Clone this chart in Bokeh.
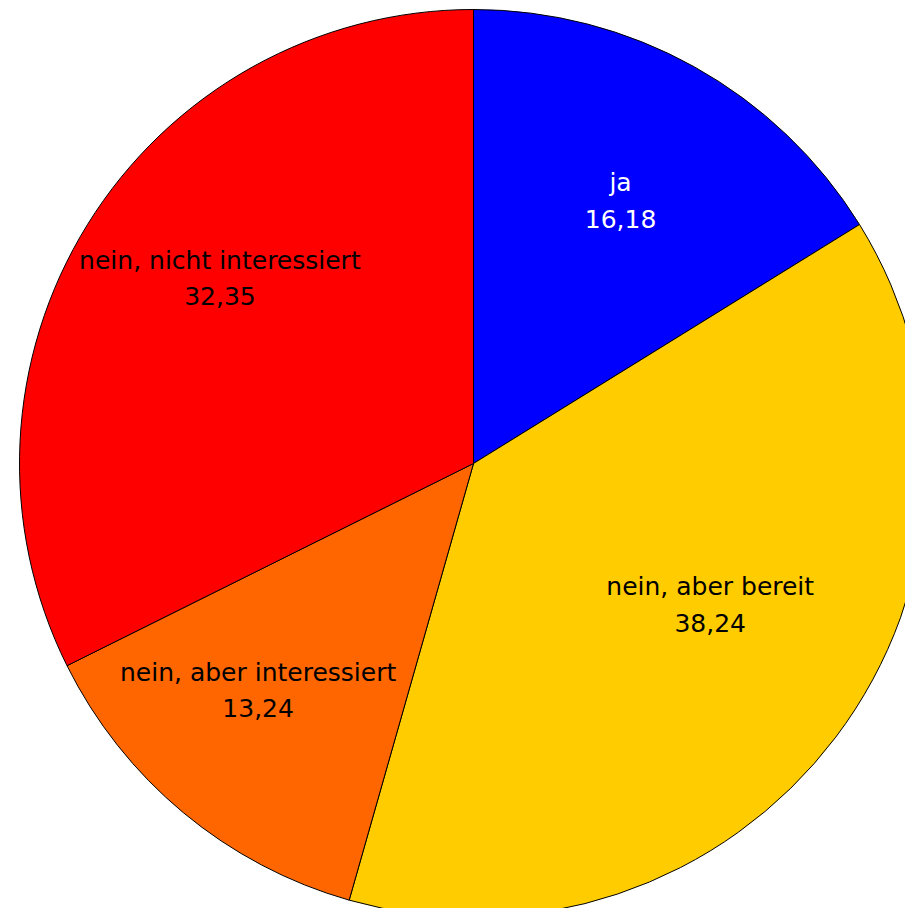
import math
from bokeh.plotting import figure
from bokeh.models import Range1d, ColumnDataSource
from bokeh.core.properties import value
from bokeh.embed import file_html
from bokeh.resources import INLINE

categories = ["ja", "nein, aber bereit", "nein, aber interessiert", "nein, nicht interessiert"]
values = [16.18, 38.24, 13.24, 32.35]
colors = ["#0000FF", "#FFCC00", "#FF6600", "#FF0000"]
text_colors = ["#FFFFFF", "#000000", "#000000", "#000000"]

# layout (pixels)
W, H = 905, 908
CX, CY, R = 473, H - 463, 454
LABEL_FRAC = 0.67
LINE_GAP = 18
label_nudge_x = [-1, -6, -21, 5]
label_nudge_y = [3, -42, -7, -25]

total = sum(values)
starts, ends, lx, ly, vals_txt = [], [], [], [], []
acc = 0.0
for v in values:
    a0 = math.pi / 2 - 2 * math.pi * acc / total
    acc += v
    a1 = math.pi / 2 - 2 * math.pi * acc / total
    starts.append(a0)
    ends.append(a1)
    mid = (a0 + a1) / 2
    lx.append(CX + LABEL_FRAC * R * math.cos(mid))
    ly.append(CY + LABEL_FRAC * R * math.sin(mid))
    vals_txt.append(f"{v:.2f}".replace(".", ","))

src = ColumnDataSource(dict(start=starts, end=ends, color=colors, cat=categories,
                            val=vals_txt, lx=lx, ly=ly, tc=text_colors,
                            nx=label_nudge_x,
                            ny_top=[n - LINE_GAP for n in label_nudge_y],
                            ny_bot=[n + LINE_GAP for n in label_nudge_y]))

p = figure(width=W, height=H, output_backend="svg", toolbar_location=None,
           x_range=Range1d(0, W), y_range=Range1d(0, H), min_border=0)
p.axis.visible = False
p.grid.visible = False
p.outline_line_color = None
p.background_fill_color = "white"
p.border_fill_color = "white"

p.wedge(x=CX, y=CY, radius=R, start_angle="start", end_angle="end", direction="clock",
        fill_color="color", line_color="black", line_width=1, source=src)

for col, oy in (("cat", "ny_top"), ("val", "ny_bot")):
    p.text(x="lx", y="ly", text=col, x_offset="nx", y_offset=oy, text_color="tc",
           text_align="center", text_baseline="middle",
           text_font=value("DejaVu Sans"), text_font_size="25px", source=src)

open("out.html", "w").write(file_html(p, INLINE))
